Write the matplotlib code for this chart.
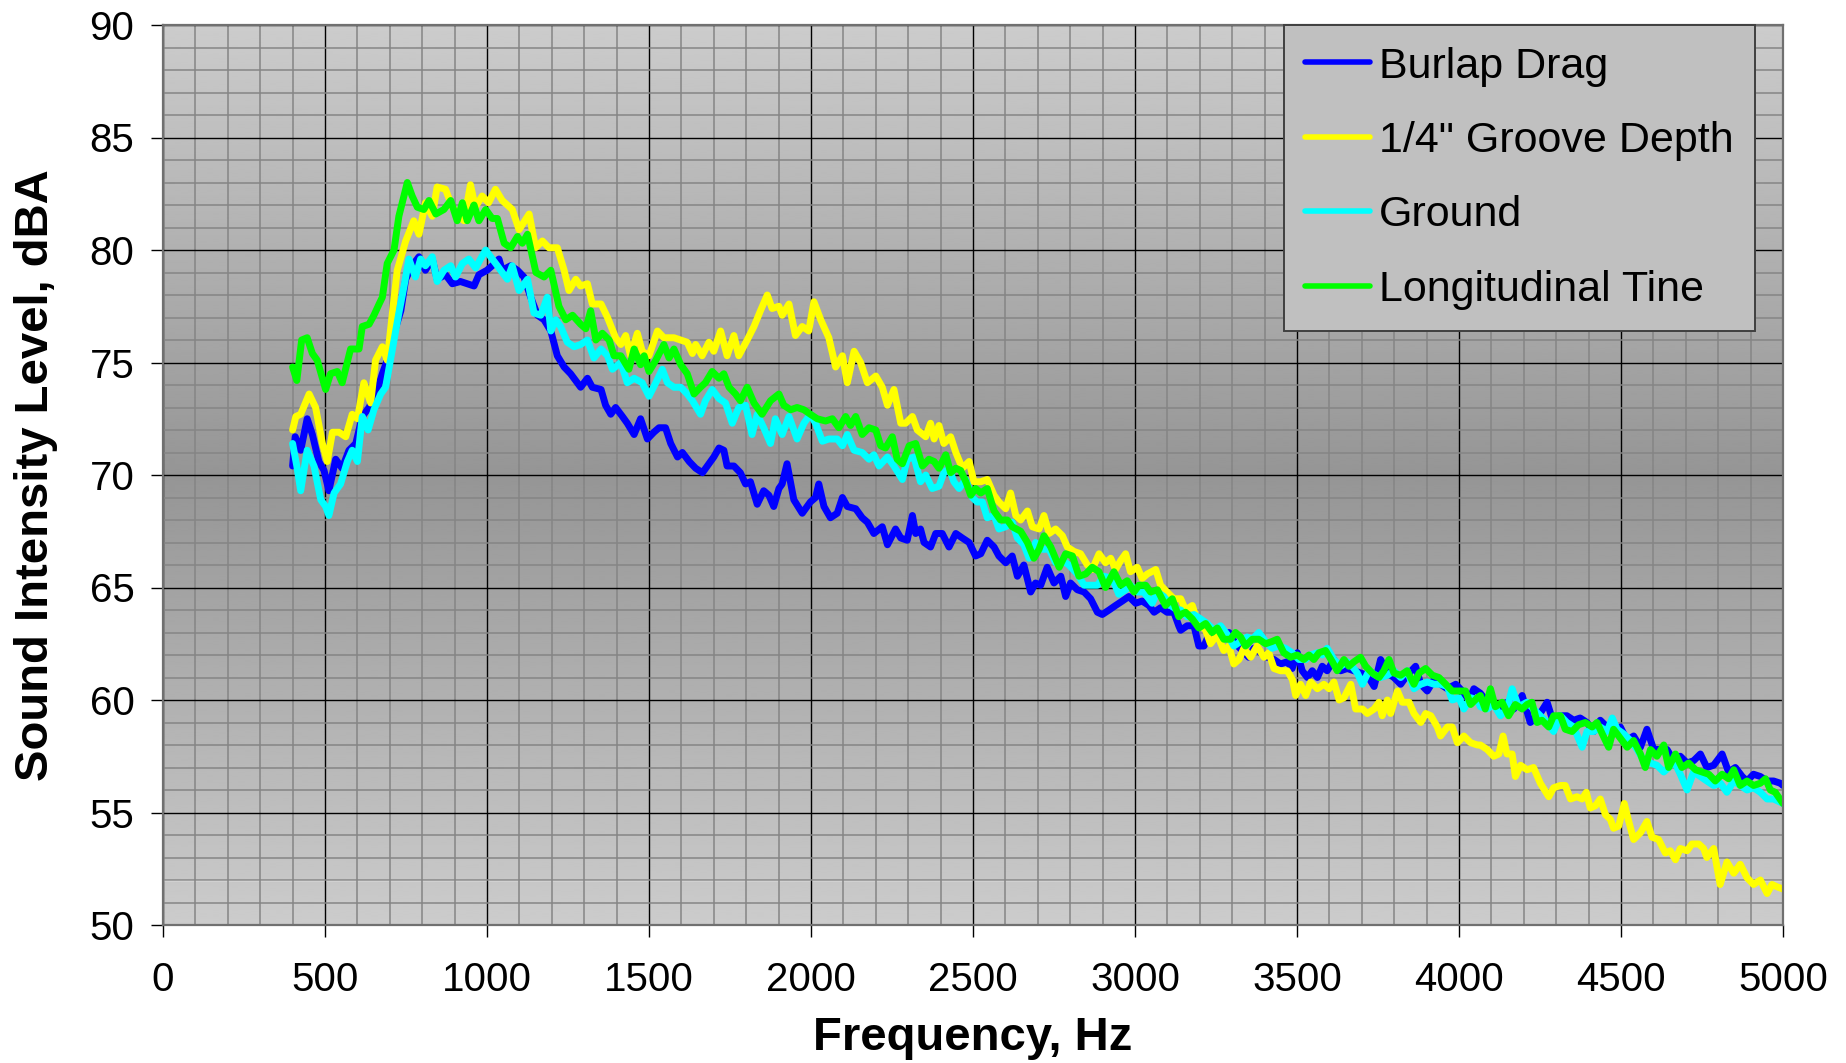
import numpy as np
import matplotlib
matplotlib.use("Agg")
import matplotlib.pyplot as plt
from matplotlib.ticker import MultipleLocator

plt.rcParams['font.family'] = ['Liberation Sans', 'DejaVu Sans']

# Series (frequency in Hz, level in dBA)
burlap_hz = [400, 408, 425, 445, 461, 481, 497, 512, 533, 553, 574, 595, 615, 636, 662, 677, 692, 713, 734, 749,
             769, 790, 810, 831, 846, 872, 893, 918, 939, 960, 975, 1000, 1016, 1037, 1047, 1073, 1094, 1114, 1135,
             1156, 1176, 1197, 1217, 1238, 1258, 1284,
             1289, 1310, 1325, 1352, 1366, 1382, 1397, 1418, 1433, 1454, 1474, 1495, 1515, 1531, 1551, 1567, 1588,
             1603, 1624, 1644, 1665, 1685, 1700, 1716, 1731, 1741, 1762, 1782, 1798, 1813, 1834, 1854, 1870, 1885,
             1901, 1911, 1926, 1947, 1973, 1998, 2014, 2024, 2040, 2060, 2081, 2097, 2112, 2138, 2158, 2174, 2194,
             2220, 2236, 2261, 2277, 2297, 2313, 2323, 2338, 2349, 2369, 2385, 2405, 2426, 2447, 2467, 2488, 2508,
             2524, 2544, 2565, 2580, 2601, 2621, 2637, 2657, 2678, 2693, 2709, 2729, 2750, 2771, 2786, 2801, 2822,
             2843, 2863, 2884, 2899, 2920, 2940, 2961, 2981, 3002, 3022, 3043, 3059, 3079, 3099, 3120, 3135,
             3141, 3161, 3182, 3197, 3213, 3228, 3249, 3269, 3290, 3310, 3331, 3351, 3367, 3388, 3408, 3429, 3449,
             3470, 3485, 3501, 3516, 3532, 3547, 3563, 3578, 3593, 3614, 3635, 3655, 3676, 3696, 3717, 3738, 3758,
             3779, 3799, 3820, 3840, 3866, 3882, 3902, 3923, 3943, 3964, 3990, 4010, 4031, 4046,
             4066, 4087, 4107, 4128, 4148, 4169, 4195, 4220, 4246, 4272, 4287, 4313, 4333, 4354, 4374, 4395, 4416,
             4436, 4457, 4477, 4498, 4519, 4539, 4560, 4580, 4601, 4621, 4642, 4663, 4683, 4704, 4724, 4745, 4765,
             4786, 4812, 4832, 4853, 4874, 4889, 4909, 4930, 4951, 4971, 4992, 5000]
burlap_db = [70.4, 71.7, 71.1, 72.5, 71.8, 70.6, 70.2, 69.3, 70.7, 70.3, 71.1, 71.4, 72.6, 73.0, 73.8, 74.5, 75.1,
             76.3, 77.3, 78.7, 79.3, 79.7, 79.1, 79.6, 78.7, 78.9, 78.5, 78.6, 78.5, 78.4, 78.9, 79.1, 79.3, 79.6,
             79.1, 79.3, 79.1, 78.8, 77.9, 77.1, 76.9, 76.4, 75.3, 74.8, 74.5, 74.0,
             73.9, 74.3, 73.9, 73.8, 73.1, 72.7, 73.0, 72.6, 72.3, 71.8, 72.5, 71.6, 71.9, 72.1, 72.1, 71.4, 70.8,
             71.0, 70.6, 70.3, 70.1, 70.5, 70.8, 71.2, 71.1, 70.4, 70.4, 70.1, 69.6, 69.7, 68.7, 69.3, 69.1, 68.6,
             69.4, 69.6, 70.5, 68.9, 68.3, 68.8, 69.0, 69.6, 68.6, 68.1, 68.3, 69.0, 68.6, 68.5, 68.1, 67.9, 67.4,
             67.7, 66.9, 67.6, 67.2, 67.1, 68.2, 67.4, 67.6, 67.0, 66.8, 67.4, 67.4, 66.8, 67.4, 67.2, 67.0, 66.4,
             66.5, 67.1, 66.8, 66.4, 66.1, 66.4, 65.5, 66.0, 64.8, 65.2, 65.1, 65.9, 65.2, 65.5, 64.6, 65.2, 64.9,
             64.8, 64.5, 63.9, 63.8, 64.0, 64.2, 64.4, 64.6, 64.3, 64.4, 64.2, 63.9, 64.1, 63.9, 63.9, 63.3,
             63.1, 63.3, 63.3, 62.4, 62.4, 62.9, 62.8, 62.9, 63.0, 62.5, 62.2, 61.9, 62.3, 62.1, 61.9, 61.8, 61.6,
             61.7, 61.4, 62.1, 61.3, 61.0, 61.3, 61.0, 61.5, 61.3, 61.8, 61.3, 61.4, 61.3, 61.2, 61.1, 60.6, 61.8,
             61.2, 61.0, 60.7, 61.1, 61.5, 60.7, 60.4, 60.9, 60.7, 60.5, 60.7, 60.4, 60.0, 60.5,
             60.3, 59.9, 59.8, 59.7, 59.9, 59.6, 60.2, 59.0, 59.3, 59.9, 59.2, 59.3, 59.3, 59.1, 59.2, 59.0, 58.6,
             59.1, 58.8, 58.5, 58.8, 58.2, 58.4, 57.9, 58.7, 57.8, 57.8, 57.8, 57.3, 57.5, 57.2, 57.3, 57.6, 57.0,
             57.1, 57.6, 56.8, 57.0, 56.6, 56.4, 56.7, 56.6, 56.4, 56.4, 56.3, 56.2]

groove_hz = [400, 410, 425, 451, 471, 492, 507, 523, 543, 564, 584, 600, 620, 641, 656, 677, 692, 708, 723, 749,
             774, 790, 810, 831, 846, 872, 893, 913, 929, 949, 964, 985, 1005, 1026, 1047, 1078, 1099, 1130, 1150,
             1171, 1191, 1217, 1238, 1253, 1274,
             1289, 1310, 1325, 1352, 1372, 1397, 1413, 1428, 1443, 1464, 1479, 1500, 1526, 1546, 1577, 1598, 1618,
             1634, 1644, 1664, 1685, 1700, 1721, 1741, 1762, 1777, 1803, 1824, 1844, 1865, 1880, 1901, 1911, 1932,
             1952, 1973, 1993, 2009, 2030, 2055, 2076, 2097, 2112, 2133, 2153, 2174, 2200,
             2220, 2236, 2256, 2277, 2292, 2313, 2328, 2354, 2369, 2380, 2395, 2410, 2431, 2447, 2467, 2488, 2503,
             2524, 2544, 2565, 2580, 2601, 2616, 2632, 2647, 2668, 2683, 2704, 2719, 2735, 2755, 2776, 2791, 2812,
             2832, 2853, 2868, 2889, 2909, 2925, 2940, 2956, 2971, 2986, 3007, 3022, 3038, 3064, 3079, 3099, 3120,
             3141, 3156, 3177, 3192, 3218, 3233, 3254, 3274, 3290, 3305, 3321, 3336, 3357, 3377, 3398, 3413, 3429,
             3449, 3470, 3486, 3496, 3511, 3527, 3542, 3563, 3583, 3599, 3614, 3630, 3645, 3666, 3681, 3702, 3717,
             3738, 3753, 3763, 3779, 3789, 3810, 3825, 3846, 3861, 3882, 3897, 3913, 3933, 3943, 3964, 3979, 3995,
             4015, 4036, 4057,
             4066, 4087, 4107, 4123, 4136, 4148, 4164, 4174, 4190, 4210, 4230, 4251, 4277, 4292, 4313, 4328, 4344,
             4364, 4380, 4393, 4405, 4421, 4436, 4452, 4467, 4477, 4493, 4510, 4524, 4539, 4560, 4580, 4596, 4616,
             4637, 4652, 4668, 4683, 4704, 4719, 4740, 4755, 4765, 4786, 4806, 4827, 4848, 4868, 4889, 4909, 4930,
             4951, 4966, 4981, 5000]
groove_db = [72.0, 72.6, 72.7, 73.6, 73.0, 71.4, 70.6, 71.9, 71.9, 71.7, 72.7, 72.5, 74.1, 73.2, 75.1, 75.7, 75.1,
             77.2, 79.1, 80.4, 81.3, 80.7, 82.1, 81.5, 82.8, 82.7, 81.9, 81.5, 81.3, 82.9, 81.9, 82.4, 82.1, 82.7,
             82.2, 81.8, 80.9, 81.6, 80.1, 80.4, 80.1, 80.1, 79.1, 78.2, 78.7,
             78.4, 78.5, 77.6, 77.6, 77.0, 76.1, 75.8, 76.2, 75.3, 76.3, 75.5, 75.3, 76.4, 76.1, 76.1, 76.0, 75.9,
             75.4, 75.8, 75.3, 75.9, 75.5, 76.4, 75.3, 76.2, 75.3, 76.0, 76.6, 77.3, 78.0, 77.4, 77.5, 77.1, 77.6,
             76.2, 76.6, 76.4, 77.7, 76.9, 76.1, 74.8, 75.3, 74.1, 75.5, 75.0, 74.1, 74.4,
             73.9, 73.1, 73.8, 72.3, 72.3, 72.6, 72.0, 71.7, 72.3, 71.6, 72.2, 71.4, 71.7, 71.0, 70.3, 70.6, 69.7,
             69.7, 69.8, 69.1, 68.8, 68.5, 69.2, 68.2, 68.0, 68.4, 67.7, 67.6, 68.2, 67.4, 67.6, 67.3, 66.8, 66.6,
             66.5, 66.0, 65.8, 66.5, 66.1, 66.3, 65.8, 66.2, 66.5, 65.7, 65.9, 65.4, 65.6, 65.8, 65.1, 64.8, 64.5,
             64.5, 64.0, 64.2, 63.5, 63.1, 62.5, 62.9, 62.2, 62.4, 61.6, 61.8, 62.3, 61.9, 62.4, 61.9, 62.1, 61.4,
             61.3, 61.3, 60.9, 60.2, 60.7, 60.2, 60.8, 60.5, 60.7, 60.5, 60.8, 60.0, 60.1, 60.7, 59.6, 59.6, 59.4,
             59.6, 59.9, 59.3, 60.0, 59.4, 60.4, 59.9, 59.9, 59.4, 59.0, 59.4, 59.3, 58.8, 58.4, 58.8, 58.8, 58.1,
             58.4, 58.1, 58.0,
             58.0, 57.8, 57.5, 57.6, 58.4, 57.6, 57.6, 56.6, 57.1, 56.9, 57.0, 56.3, 55.7, 56.1, 56.2, 56.2, 55.6,
             55.7, 55.6, 55.9, 55.2, 55.3, 55.6, 54.9, 54.7, 54.3, 54.4, 55.4, 54.6, 53.8, 54.1, 54.6, 53.9, 53.8,
             53.2, 53.3, 52.9, 53.4, 53.3, 53.6, 53.6, 53.4, 53.0, 53.4, 51.8, 52.8, 52.3, 52.7, 52.1, 51.8, 52.0,
             51.4, 51.8, 51.7, 51.6]

ground_hz = [400, 413, 425, 445, 466, 487, 502, 512, 528, 548, 569, 584, 600, 615, 633, 651, 672, 687, 708, 728,
             744, 759, 779, 795, 810, 831, 846, 867, 888, 903, 924, 944, 965, 980, 996, 1011, 1032, 1047, 1063,
             1078, 1099, 1125, 1145, 1166, 1186, 1197, 1212, 1227, 1248, 1269,
             1289, 1310, 1330, 1352, 1372, 1387, 1413, 1433, 1454, 1479, 1500, 1521, 1541, 1557, 1577, 1598, 1618,
             1634, 1659, 1674, 1695, 1716, 1736, 1757, 1777, 1798, 1818, 1834, 1854, 1875, 1890, 1911, 1932, 1957,
             1978, 1998, 2014, 2035, 2055, 2081, 2097, 2112, 2133, 2158, 2179, 2194, 2210,
             2236, 2256, 2282, 2297, 2318, 2338, 2354, 2374, 2395, 2410, 2426, 2441, 2457, 2477, 2498, 2513, 2529,
             2544, 2565, 2580, 2601, 2621, 2637, 2657, 2673, 2693, 2714, 2735, 2755, 2776, 2796, 2822, 2843, 2863,
             2884, 2904, 2930, 2950, 2971, 2986, 3007, 3027, 3053, 3069, 3089, 3110, 3130,
             3141, 3161, 3182, 3203, 3223, 3244, 3264, 3285, 3305, 3326, 3346, 3362, 3382, 3403, 3423, 3444, 3464,
             3485, 3506, 3527, 3542, 3563, 3578, 3593, 3614, 3635, 3655, 3670, 3686, 3702, 3722, 3743, 3758, 3779,
             3799, 3820, 3840, 3861, 3882, 3902, 3923, 3943, 3964, 3979, 4000, 4015, 4036, 4057,
             4066, 4087, 4107, 4128, 4148, 4164, 4184, 4210, 4230, 4251, 4272, 4292, 4313, 4333, 4354, 4380, 4395,
             4416, 4436, 4457, 4473, 4488, 4508, 4529, 4550, 4570, 4591, 4611, 4632, 4647, 4663, 4683, 4704, 4724,
             4745, 4765, 4786, 4807, 4827, 4848, 4868, 4889, 4909, 4930, 4951, 4971, 5000]
ground_db = [71.4, 70.4, 69.3, 71.1, 70.4, 68.9, 68.6, 68.2, 69.2, 69.6, 70.6, 71.1, 70.6, 72.6, 72.0, 72.9, 73.6,
             73.9, 75.6, 77.2, 78.4, 79.6, 78.8, 79.6, 79.3, 79.7, 78.6, 79.1, 79.3, 78.8, 79.4, 79.6, 79.2, 79.6,
             80.0, 79.7, 79.3, 79.0, 78.7, 79.3, 78.2, 78.7, 77.2, 77.1, 77.9, 76.4, 76.9, 76.6, 75.9, 75.7,
             75.8, 76.0, 75.2, 75.6, 75.3, 74.7, 75.0, 74.1, 74.3, 74.1, 73.5, 74.1, 74.7, 74.1, 73.9, 73.9, 73.6,
             73.3, 72.7, 73.3, 73.8, 73.4, 73.2, 72.3, 73.0, 73.1, 71.8, 72.7, 72.1, 71.4, 72.5, 71.8, 72.6, 71.6,
             72.3, 72.7, 72.3, 71.5, 71.6, 71.6, 71.3, 71.8, 71.1, 71.0, 70.7, 70.9, 70.4,
             70.8, 70.4, 69.8, 70.7, 70.8, 69.7, 70.0, 69.4, 69.5, 70.1, 70.3, 69.7, 69.4, 69.8, 69.0, 68.8, 68.8,
             68.1, 68.2, 67.6, 67.7, 67.9, 67.2, 66.9, 66.3, 67.0, 66.7, 66.7, 66.1, 66.2, 66.0, 65.6, 65.1, 65.1,
             65.1, 65.5, 65.4, 64.7, 64.9, 65.1, 64.8, 64.8, 64.3, 64.8, 64.6, 64.2, 64.0,
             64.0, 63.7, 63.8, 63.6, 63.4, 63.1, 63.3, 62.9, 62.4, 62.6, 62.8, 62.7, 63.0, 62.6, 62.3, 62.4, 62.3,
             62.1, 61.8, 61.8, 62.0, 62.1, 62.0, 62.3, 61.8, 61.5, 61.7, 61.5, 61.2, 60.7, 61.3, 61.1, 61.0, 61.1,
             61.3, 61.0, 61.3, 60.5, 60.7, 60.8, 60.7, 60.7, 60.6, 60.0, 60.1, 59.6, 60.1, 60.0,
             59.7, 59.6, 59.8, 59.3, 59.6, 60.5, 59.7, 59.9, 59.6, 59.3, 59.0, 58.6, 59.3, 59.0, 58.8, 57.9, 58.6,
             58.6, 58.8, 58.6, 59.2, 58.7, 58.5, 58.2, 57.8, 57.3, 57.2, 57.1, 56.8, 57.0, 57.3, 56.7, 56.0, 56.8,
             56.6, 56.4, 56.2, 56.3, 55.9, 56.4, 56.2, 56.0, 56.1, 55.9, 55.6, 55.6, 55.4]

tine_hz = [400, 413, 428, 445, 461, 476, 502, 517, 538, 553, 579, 605, 615, 636, 651, 667, 677, 692, 713, 728,
           754, 769, 785, 805, 821, 842, 867, 888, 908, 924, 939, 960, 975, 996, 1016, 1032, 1053, 1073, 1094,
           1109, 1125, 1151, 1176, 1197, 1222, 1243, 1264,
           1289, 1305, 1320, 1336, 1356, 1377, 1392, 1413, 1438, 1454, 1474, 1485, 1500, 1521, 1546, 1562, 1577,
           1598, 1618, 1639, 1659, 1674, 1695, 1716, 1731, 1747, 1767, 1782, 1803, 1824, 1849, 1875, 1901, 1916,
           1937, 1957, 1978, 1998, 2019, 2045, 2066, 2086, 2107, 2122, 2138, 2158, 2179, 2200,
           2215, 2230, 2251, 2266, 2282, 2303, 2323, 2344, 2364, 2380, 2395, 2416, 2431, 2447, 2462, 2478, 2493,
           2508, 2524, 2544, 2565, 2585, 2606, 2621, 2647, 2668, 2688, 2704, 2719, 2740, 2766, 2786, 2807, 2827,
           2848, 2868, 2889, 2909, 2935, 2956, 2976, 2997, 3012, 3033, 3048, 3069, 3094, 3115, 3135,
           3141, 3156, 3177, 3197, 3218, 3238, 3254, 3274, 3295, 3310, 3326, 3341, 3362, 3382, 3403, 3423, 3439,
           3459, 3480, 3501, 3521, 3537, 3552, 3568, 3588, 3609, 3624, 3645, 3660, 3676, 3696, 3712, 3732, 3753,
           3768, 3784, 3799, 3820, 3840, 3861, 3877, 3897, 3918, 3938, 3959, 3979, 4000, 4020, 4036, 4057,
           4066, 4081, 4097, 4112, 4133, 4153, 4174, 4195, 4210, 4225, 4241, 4256, 4277, 4292, 4313, 4328, 4349,
           4369, 4390, 4411, 4426, 4442, 4462, 4477, 4498, 4519, 4539, 4560, 4575, 4591, 4611, 4632, 4647, 4668,
           4688, 4709, 4730, 4750, 4771, 4791, 4812, 4832, 4848, 4868, 4889, 4909, 4930, 4946, 4961, 4976, 5000]
tine_db = [74.8, 74.2, 76.0, 76.1, 75.4, 75.1, 73.8, 74.5, 74.6, 74.1, 75.6, 75.6, 76.6, 76.7, 77.1, 77.6, 77.9,
           79.4, 80.0, 81.5, 83.0, 82.4, 81.9, 81.8, 82.2, 81.6, 81.8, 82.2, 81.3, 82.1, 81.3, 82.0, 81.3, 81.8,
           81.4, 81.4, 80.3, 80.1, 80.6, 80.3, 80.7, 79.0, 78.8, 79.1, 77.5, 76.9, 77.1,
           76.7, 76.5, 77.3, 76.0, 76.3, 76.0, 75.3, 75.3, 74.7, 75.6, 74.9, 75.3, 74.6, 75.1, 75.8, 75.2, 75.6,
           74.9, 74.5, 73.6, 73.9, 74.1, 74.6, 74.3, 74.5, 73.9, 73.6, 73.3, 73.9, 73.2, 72.7, 73.3, 73.6, 73.1,
           72.9, 73.0, 72.9, 72.7, 72.5, 72.4, 72.5, 72.1, 72.6, 72.2, 72.6, 71.8, 72.1, 72.0,
           71.3, 71.2, 71.7, 70.7, 70.5, 71.3, 71.4, 70.4, 70.7, 70.6, 70.3, 70.9, 70.1, 70.3, 70.2, 69.7, 69.1,
           69.4, 69.2, 69.4, 68.4, 68.0, 68.0, 67.7, 67.5, 67.0, 66.3, 66.7, 67.3, 66.8, 65.9, 66.5, 66.4, 65.5,
           65.6, 65.9, 65.7, 65.0, 65.7, 65.1, 65.3, 64.8, 65.1, 65.1, 64.8, 64.9, 64.2, 64.5, 63.7,
           63.8, 63.9, 63.6, 63.2, 63.4, 63.0, 63.2, 62.7, 62.7, 63.0, 62.8, 62.4, 62.7, 62.7, 62.5, 62.6, 62.7,
           62.1, 61.9, 62.0, 61.8, 62.0, 61.8, 62.1, 62.2, 61.7, 61.3, 61.8, 61.5, 61.7, 61.9, 61.5, 61.2, 61.0,
           61.3, 61.8, 61.2, 61.1, 61.3, 60.7, 61.2, 61.4, 61.1, 61.0, 60.7, 60.4, 60.4, 60.4, 59.8, 60.1,
           60.2, 59.6, 60.5, 59.7, 59.9, 59.3, 59.8, 59.6, 59.8, 59.9, 59.0, 59.1, 58.8, 59.3, 59.3, 58.7, 58.6,
           58.9, 59.0, 58.8, 59.0, 58.5, 57.9, 58.7, 58.3, 57.9, 58.2, 57.6, 57.0, 57.8, 57.5, 58.0, 57.0, 57.6,
           57.0, 57.2, 56.9, 56.8, 56.7, 56.4, 56.7, 56.5, 56.9, 56.2, 56.4, 56.2, 56.3, 56.5, 56.0, 55.9, 55.4]

series_names = ['Burlap Drag', '1/4" Groove Depth', 'Ground', 'Longitudinal Tine']
series_colors = ['#0000ff', '#ffff00', '#00ffff', '#00ff00']

x_ticks = list(range(0, 5001, 500))
y_ticks = list(range(50, 91, 5))


def make_chart():
    fig = plt.figure(figsize=(18.46, 10.63), dpi=100)
    ax = fig.add_axes([163 / 1846, 1 - 925 / 1063, 1620 / 1846, 900 / 1063])

    # Excel style background: light at top and bottom, darker in the middle
    t = np.abs(np.linspace(-1, 1, 400))
    shade = 0.585 + (0.80 - 0.585) * t
    ax.imshow(shade.reshape(-1, 1), extent=[0, 5000, 50, 90], aspect='auto',
              cmap='gray', vmin=0, vmax=1, zorder=0, interpolation='bilinear')

    ax.set_xlim(0, 5000)
    ax.set_ylim(50, 90)
    ax.xaxis.set_major_locator(MultipleLocator(500))
    ax.yaxis.set_major_locator(MultipleLocator(5))
    ax.xaxis.set_minor_locator(MultipleLocator(100))
    ax.yaxis.set_minor_locator(MultipleLocator(1))
    ax.grid(which='minor', color='#858585', linewidth=1.1, zorder=0.5)
    ax.grid(which='major', color='black', linewidth=1.0, zorder=0.6)
    ax.axhline(52, color='white', linewidth=1.0, zorder=0.55)

    data = [(burlap_hz, burlap_db), (groove_hz, groove_db),
            (ground_hz, ground_db), (tine_hz, tine_db)]
    for (hz, db), name, col in zip(data, series_names, series_colors):
        ax.plot(hz, db, color=col, linewidth=5.0, label=name,
                solid_joinstyle='round', solid_capstyle='round', zorder=3)

    ax.set_xticks(x_ticks)
    ax.set_yticks(y_ticks)
    ax.tick_params(which='major', direction='out', length=8.6, width=1.0,
                   color='black', labelsize=29)
    ax.tick_params(axis='x', which='major', pad=17)
    ax.tick_params(axis='y', which='major', pad=12)
    ax.tick_params(which='minor', length=0)
    for side in ['left', 'bottom', 'top', 'right']:
        ax.spines[side].set_color('#707070')
        ax.spines[side].set_linewidth(1.6)
        ax.spines[side].set_zorder(4)

    leg = ax.legend(loc='upper right', bbox_to_anchor=(0.983, 1.0), borderaxespad=0,
                    fontsize=31, frameon=True, fancybox=False, framealpha=1,
                    facecolor='#c0c0c0', edgecolor='#404040',
                    handlelength=1.5, handletextpad=0.22, labelspacing=0.8, borderpad=0.5)
    leg.get_frame().set_linewidth(1.4)
    for handle in leg.get_lines():
        handle.set_linewidth(4.0)
    leg.set_zorder(5)

    fig.text(0.5 * (163 + 1783) / 1846, 1 - 1038 / 1063, 'Frequency, Hz',
             ha='center', va='center', fontsize=34, fontweight='bold')
    fig.text(36 / 1846, 1 - 475 / 1063, 'Sound Intensity Level, dBA',
             ha='center', va='center', rotation=90, fontsize=34, fontweight='bold')

    fig.savefig('out.png', dpi=100)


if __name__ == "__main__":
    make_chart()
